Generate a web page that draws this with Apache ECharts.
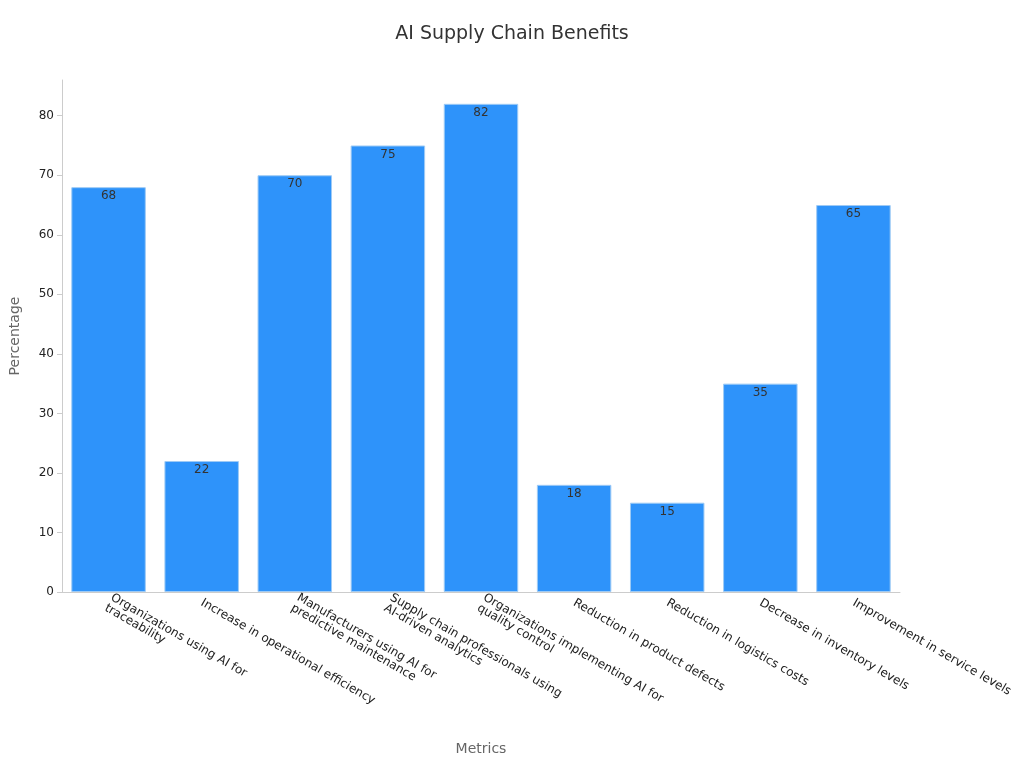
<!DOCTYPE html>
<html><head><meta charset="utf-8">
<script src="https://cdn.jsdelivr.net/npm/echarts@6/dist/echarts.min.js"></script>
<style>html,body{margin:0;padding:0;background:#fff}#c{width:1024px;height:768px}</style>
</head><body><div id="c"></div>
<script>
const categories = ["Organizations using AI for\ntraceability","Increase in operational efficiency","Manufacturers using AI for\npredictive maintenance","Supply chain professionals using\nAI-driven analytics","Organizations implementing AI for\nquality control","Reduction in product defects","Reduction in logistics costs","Decrease in inventory levels","Improvement in service levels"];
const values = [68,22,70,75,82,18,15,35,65];
const chart = echarts.init(document.getElementById('c'));
chart.setOption({
  title:{text:'AI Supply Chain Benefits',left:'center',top:20,textStyle:{fontFamily:'DejaVu Sans',fontSize:19,fontWeight:'normal',color:'#333'}},
  grid:{left:60,right:124,top:80,bottom:176},
  xAxis:{type:'category',data:categories,name:'Metrics',nameLocation:'middle',nameGap:150,
    nameTextStyle:{fontFamily:'DejaVu Sans',fontSize:14,color:'#666'},
    axisLine:{lineStyle:{color:'#ccc'}},axisTick:{lineStyle:{color:'#ccc'}},
    axisLabel:{rotate:-30,interval:0,fontFamily:'DejaVu Sans',fontSize:12,color:'#222',margin:10}},
  yAxis:{type:'value',min:0,max:86,interval:10,name:'Percentage',nameLocation:'middle',nameGap:40,
    nameTextStyle:{fontFamily:'DejaVu Sans',fontSize:14,color:'#666'},
    axisLine:{show:true,lineStyle:{color:'#ccc'}},axisTick:{show:true,lineStyle:{color:'#ccc'}},splitLine:{show:false},
    axisLabel:{fontFamily:'DejaVu Sans',fontSize:12,color:'#222',showMaxLabel:false}},
  series:[{type:'bar',data:values,barCategoryGap:'20%',
    itemStyle:{color:'#2e93fa',borderColor:'#9fcbf5',borderWidth:1},
    label:{show:true,position:'insideTop',color:'#333',fontFamily:'DejaVu Sans',fontSize:12,offset:[0,-2]}}]
});
</script></body></html>
